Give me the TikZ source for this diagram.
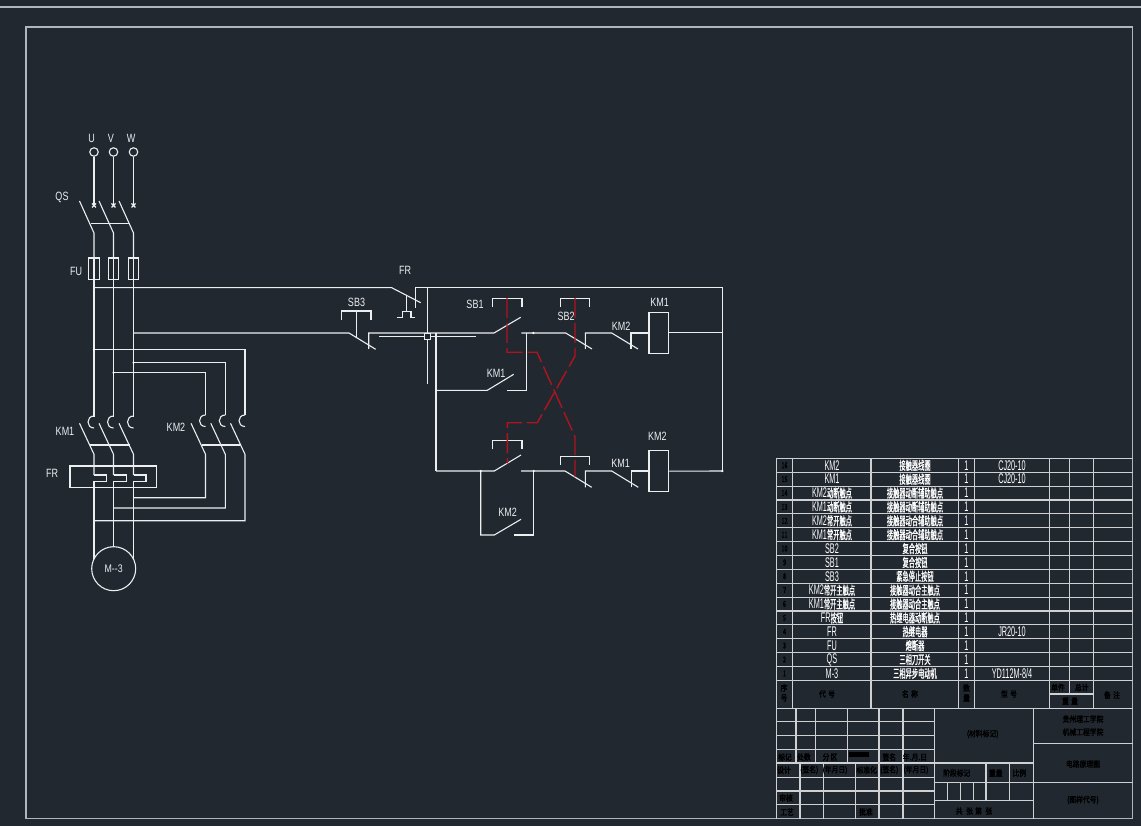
\documentclass[tikz,border=0pt]{standalone}
\usepackage{fontspec}
\setmainfont{Liberation Sans}
\newfontfamily\cjk[FakeBold=1.5]{Noto Sans CJK SC}
\newfontfamily\cjkb[FakeBold=2.5]{Noto Sans CJK SC}
\definecolor{bgcad}{RGB}{33,40,48}
\definecolor{wirecad}{RGB}{236,238,240}
\definecolor{framecad}{RGB}{178,182,186}
\definecolor{redcad}{RGB}{175,20,32}
\newcommand{\zh}[1]{{\cjk\fontsize{12}{12}\selectfont #1}}
\tikzset{
  wire/.style={color=wirecad,line width=1.1pt},
  frameline/.style={color=framecad,line width=1.4pt},
  cell/.style={color=wirecad!85!bgcad,line width=1.1pt},
  link/.style={color=redcad,line width=1.4pt,dash pattern=on 20pt off 5pt},
  lbl/.style={text=wirecad,inner sep=0pt,font=\fontsize{12}{12}\selectfont,xscale=0.75},
  rowtxt/.style={text=white,inner sep=0pt,font=\fontsize{14}{14}\selectfont,xscale=0.52},
  darktxt/.style={text=black,inner sep=0pt,font=\cjkb\fontsize{8}{8}\selectfont,xscale=0.85},
}
\begin{document}
\begin{tikzpicture}[x=1pt,y=-1pt]
  % sheet
  \fill[bgcad] (0,0) rectangle (1141,826);
  \useasboundingbox (0,0) rectangle (1141,826);
  \draw[frameline] (0,7) -- (1141,7);
  \draw[frameline] (26,27) rectangle (1132.5,818.7);

  % main circuit, three phases
  \foreach \i/\px/\ph in {1/94/U,2/113.5/V,3/133.5/W} {
    \node[lbl] (ph\i) at (\px-2.5,138) {\ph};
    \node[circle,draw=wirecad,line width=1.1pt,minimum size=8.5pt,inner sep=0pt] (in\i) at (\px,152) {};
    \draw[wire] (in\i) -- (\px,205.5);
    \draw[wire] (\px-2,203.5) -- (\px+2,207.5) (\px-2,207.5) -- (\px+2,203.5);
    % knife switch
    \draw[wire] (\px-14.5,201) -- (\px,233) -- (\px,258);
    % fuse
    \draw[wire] (\px-5.3,258) rectangle (\px+5.3,279.5);
    \draw[wire] (\px,258) -- (\px,417);
    \draw[wire] (\px,416) .. controls (\px-8,416) and (\px-8,428) .. (\px,428);
    % KM1 main contact
    \draw[wire] (\px-14.5,423.3) -- (\px,454.3) -- (\px,475);
  }
  \draw[wire] (91,223.5) -- (129,223.5);
  \draw[wire] (90,445) -- (130,445);
  \node[lbl] (qslabel) at (62,197) {QS};
  \node[lbl] (fulabel) at (76,271) {FU};
  \node[lbl] (km1main) at (65,431) {KM1};
  \node[lbl] (km2main) at (176,427) {KM2};
  \node[lbl] (frmain) at (52,473.5) {FR};

  % KM2 main contacts and their feeds
  \foreach \px/\py/\qx/\qy in {245/349.7/94/520.7,225.3/362.7/113.5/508,205.5/372.7/133.5/497.7} {
    \draw[wire] (\px,415) .. controls (\px-8,415) and (\px-8,426.5) .. (\px,426.5);
    \draw[wire] (\px-14.5,423.3) -- (\px,454.3) -- (\px,\qy) -- (\qx,\qy);
  }
  \draw[wire] (94,349.7) -- (245,349.7) -- (245,415);
  \draw[wire] (133.5,362.7) -- (225.3,362.7) -- (225.3,415);
  \draw[wire] (113.5,372.7) -- (205.5,372.7) -- (205.5,415);
  \fill[white] (94,349.7) circle (1.2) (133.5,362.7) circle (1.2) (113.5,372.7) circle (1.2);
  \draw[wire] (201.7,445) -- (240.7,445);

  % thermal relay
  \draw[wire] (70,466) rectangle (156.7,487.3);
  \foreach \px/\qx in {94/106.7,113.5/126.3,133.5/146} {
    \draw[wire] (\px,475) -- (\qx,475) -- (\qx,481.3) -- (\px,481.3) -- (\px,570);
  }
  \node[circle,draw=wirecad,fill=bgcad,line width=1.1pt,minimum size=44pt,inner sep=0pt,text=wirecad,font=\fontsize{11}{11}\selectfont] (motor) at (113.7,568.7) {\scalebox{0.8}[1]{M-{}-3}};

  % control circuit, top rail
  \draw[wire] (94,287.7) -- (391.7,287.7) -- (420.7,302.7);
  \draw[wire] (415.7,307.7) -- (415.7,287.7) -- (722.3,287.7) -- (722.3,471);
  \draw[wire] (406.7,295) -- (406.7,311.7) -- (402.7,311.7) -- (402.7,317.3) -- (397.3,317.3);
  \draw[wire] (406.7,311.7) -- (411,311.7) -- (411,317.3) -- (414.7,317.3);
  \node[lbl] (frtop) at (405,270.5) {FR};
  \draw[wire] (427.3,287.7) -- (427.3,384.3);
  \draw[wire] (379.3,336.3) -- (475.7,336.3);

  % SB3
  \draw[wire] (133.5,333) -- (349,333) -- (375.7,349.3);
  \draw[wire] (368.7,349) -- (368.7,333) -- (494,333) -- (520.7,317.3);
  \draw[wire] (341.7,319.7) -- (341.7,311) -- (371,311) -- (371,319.7);
  \draw[wire] (356.3,311) -- (356.3,337);
  \node[lbl] (sb3label) at (356.5,302) {SB3};
  \node[draw=wirecad,fill=bgcad,line width=1.1pt,minimum size=6pt,inner sep=0pt] (tbox) at (427.3,336.3) {};

  % forward branch
  \draw[wire] (436,333) -- (436,471);
  \draw[wire] (436,390.3) -- (487.3,390.3) -- (513.7,374.3);
  \draw[wire] (507.3,390.3) -- (526.7,390.3) -- (526.7,333);
  \draw[wire] (521.3,333) -- (565.7,333) -- (592,349);
  \draw[wire] (585.3,349) -- (585.3,333) -- (611.7,333) -- (638,349);
  \draw[wire] (631,349) -- (631,333) -- (649,333);
  \node[draw=wirecad,line width=1.1pt,minimum width=19.7pt,minimum height=41pt,inner sep=0pt] (km1coil) at (658.85,332.8) {};
  \draw[wire] (km1coil.east) -- (722.3,332.8);
  \foreach \name/\bx/\by in {sbl/492.7/298.3,sbr/560.3/298.3,sbm/492.7/440.7,sbn/560.3/456.7} {
    \draw[wire] (\bx,\by+8.7) -- (\bx,\by) -- (\bx+29.3,\by) -- (\bx+29.3,\by+8.7);
  }
  \node[lbl] (sb1label) at (475,304) {SB1};
  \node[lbl] (sb2label) at (566,316) {SB2};
  \node[lbl] (km1hold) at (496,373) {KM1};
  \node[lbl] (km2nc) at (621,326) {KM2};
  \node[lbl] (km1coiltxt) at (659.5,302) {KM1};

  % reverse branch
  \draw[wire] (436,471) -- (494.3,471) -- (521,455);
  \draw[wire] (521,471) -- (565,471) -- (591.7,487.3);
  \draw[wire] (585.3,487.3) -- (585.3,471) -- (611.7,471) -- (638.3,487.3);
  \draw[wire] (631.3,487.3) -- (631.3,471) -- (649,471);
  \node[draw=wirecad,line width=1.1pt,minimum width=19.7pt,minimum height=41pt,inner sep=0pt] (km2coil) at (658.85,471.2) {};
  \draw[wire] (km2coil.east) -- (722.3,471);
  \draw[wire] (480.7,471) -- (480.7,535) -- (494.3,535) -- (521,519.3);
  \draw[wire] (514.3,535) -- (533.7,535) -- (533.7,471);
  \fill[white] (480.7,471) circle (1.2) (533.7,471) circle (1.2) (722.3,471) circle (1.2) (533.3,333) circle (1.2);
  \node[lbl] (km2hold) at (507.7,512.7) {KM2};
  \node[lbl] (km1nc) at (620.7,463.3) {KM1};
  \node[lbl] (km2coiltxt) at (657.3,436.7) {KM2};

  % mechanical interlock
  \draw[link] (507,298) -- (507,352.3) -- (537,352.3) -- (575,436.7) -- (575,476.7);
  \draw[link] (575,298) -- (575,356) -- (537.3,422.7) -- (507.3,422.7) -- (507.3,463.3);

  % parts list
  \foreach \yy in {458.3,472.2,486.1,500,513.9,527.8,541.6,555.5,569.4,583.3,597.2,611,624.9,638.8,652.7,666.6,680.6} {
    \draw[cell] (776.3,\yy) -- (1132.5,\yy);
  }
  \foreach \xx in {776.3,792.7,871,958.7,974.3,1049.3,1093.3} {
    \draw[cell] (\xx,458.3) -- (\xx,708.3);
  }
  \draw[cell] (1069.3,458.3) -- (1069.3,694);
  \draw[cell] (1049.3,694) -- (1093.3,694);
  \foreach \n/\code/\what/\ty [count=\r from 0] in {
    16/KM2/接触器线圈/CJ20-10,
    15/KM1/接触器线圈/CJ20-10,
    14/KM2\zh{动断触点}/接触器动断辅助触点/,
    13/KM1\zh{动断触点}/接触器动断辅助触点/,
    12/KM2\zh{常开触点}/接触器动合辅助触点/,
    11/KM1\zh{常开触点}/接触器动合辅助触点/,
    10/SB2/复合按钮/,
    9/SB1/复合按钮/,
    8/SB3/紧急停止按钮/,
    7/KM2\zh{常开主触点}/接触器动合主触点/,
    6/KM1\zh{常开主触点}/接触器动合主触点/,
    5/FR\zh{按钮}/热继电器动断触点/,
    4/FR/热继电器/JR20-10,
    3/FU/熔断器/,
    2/QS/三相刀开关/,
    1/M-3/三相异步电动机/{YD112M-8/4}} {
    \pgfmathsetmacro{\yy}{465.3+13.87*\r}
    \node[darktxt,xscale=0.8] (no\r) at (784.5,\yy) {\n};
    \node[rowtxt] (code\r) at (832,\yy) {\code};
    \node[rowtxt] (what\r) at (915,\yy) {\zh{\what}};
    \node[rowtxt] (qty\r) at (966.5,\yy) {1};
    \node[rowtxt] (type\r) at (1012,\yy) {\ty};
  }
  % head of the list
  \foreach \name/\tx/\ty/\txt in {h1/784/688/序,h2/784/698/号,h3/827/694/代\,\,号,h4/910/694/名\,\,称,h5/966.5/688/数,h6/966.5/698/量,h7/1009/694/型\,\,号,h8/1058/687.5/单件,h9/1081.7/687.5/总计,h10/1070/701/重\,\,量,h11/1112/695/备\,\,注} {
    \node[darktxt] (\name) at (\tx,\ty) {\txt};
  }

  % title block
  \foreach \yy in {708.3,721.7,735.3,749.3,763,777.3,791,804.7} {
    \draw[cell] (776.3,\yy) -- (934.3,\yy);
  }
  \foreach \xx in {796,815.7,847.3,879,903} {
    \draw[cell] (\xx,708.3) -- (\xx,763);
  }
  \foreach \xx in {800,823.7,855.3,879,903} {
    \draw[cell] (\xx,763) -- (\xx,818.7);
  }
  \draw[cell] (776.3,708.3) -- (776.3,818.7);
  \draw[cell] (934.3,708.3) -- (934.3,818.7);
  \draw[cell] (1033.3,708.3) -- (1033.3,818.7);
  \draw[cell] (776.3,708.3) -- (1132.5,708.3);
  \draw[cell] (934.3,763) -- (1033.3,763);
  \draw[cell] (934.3,782.7) -- (1132.5,782.7);
  \draw[cell] (934.3,800.7) -- (1033.3,800.7);
  \draw[cell] (1033.3,743.3) -- (1132.5,743.3);
  \draw[cell] (986,763) -- (986,800.7);
  \draw[cell] (1009.3,763) -- (1009.3,800.7);
  \foreach \xx in {947.3,960.3,973.3} {
    \draw[cell] (\xx,782.7) -- (\xx,800.7);
  }
  \fill[black] (849,752.3) rectangle (869,757);
  \foreach \name/\tx/\ty/\txt in {t1/785/757/标记,t2/804/757/处数,t3/830/757/分\,区,t4/889.3/757/签名,t5/915/757/年.月.日,
    t6/784/770/设计,t7/809.3/770/(签名),t8/835/770/(年月日),t9/866.7/770/标准化,t10/889.3/770/(签名),t11/916/770/(年月日),
    t12/786/798/审核,t13/787/812/工艺,t14/866/812/批准,t15/956.7/773/阶段标记,t16/995.7/773/重量,t17/1019.3/773/比例,
    t18/974/811/共\,\,\,张\,\,第\,\,\,张,t19/982.7/734/(材料标记),t20/1083/719/贵州理工学院,t21/1083/732/机械工程学院,
    t22/1083/764/电路原理图,t23/1083/800/(图样代号)} {
    \node[darktxt] (\name) at (\tx,\ty) {\txt};
  }
\end{tikzpicture}
\end{document}
